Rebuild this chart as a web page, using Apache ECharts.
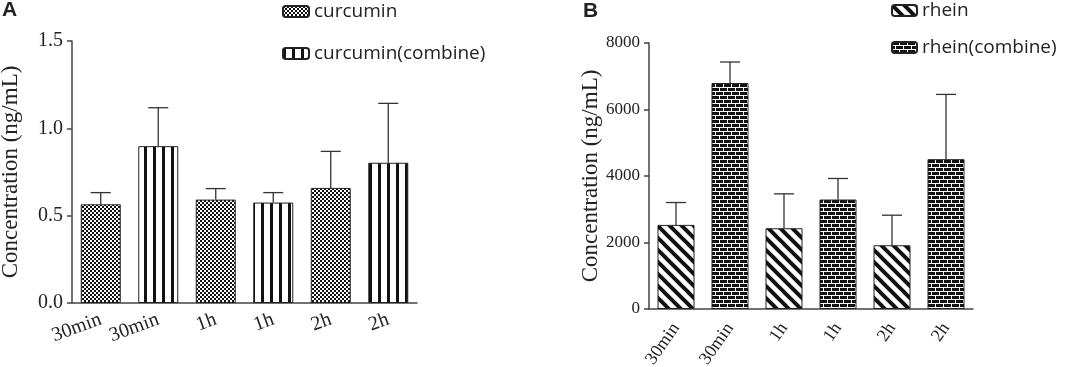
<!DOCTYPE html>
<html>
<head>
<meta charset="utf-8">
<script src="https://cdn.jsdelivr.net/npm/echarts@6/dist/echarts.min.js"></script>
<style>
  html, body { margin: 0; padding: 0; background: #fff; }
  #chart { width: 1072px; height: 367px; }
</style>
</head>
<body>
<div id="chart"></div>
<script>
const timeLabels = ['30min', '30min', '1h', '1h', '2h', '2h'];

// panel A (ng/mL)
const curcuminMean = [0.565, null, 0.592, null, 0.659, null];
const curcuminCombineMean = [null, 0.898, null, 0.575, null, 0.803];
const curcuminUpper = [0.632, 1.118, 0.655, 0.632, 0.868, 1.143];

// panel B (ng/mL)
const rheinMean = [2530, null, 2429, null, 1917, null];
const rheinCombineMean = [null, 6796, null, 3292, null, 4507];
const rheinUpper = [3202, 7428, 3463, 3925, 2821, 6454];

const serif = '"Liberation Serif", "DejaVu Serif", serif';
const sans = '"Open Sans", "Noto Sans", sans-serif';
const ink = '#222';

function makeTile(w, h, bg, draw) {
  const c = document.createElement('canvas');
  c.width = w;
  c.height = h;
  const ctx = c.getContext('2d');
  ctx.fillStyle = bg;
  ctx.fillRect(0, 0, w, h);
  ctx.fillStyle = '#111';
  ctx.strokeStyle = '#111';
  draw(ctx);
  return { image: c, repeat: 'repeat' };
}

const checkFill = makeTile(4, 4, '#fff', ctx => {
  ctx.fillRect(0, 0, 2, 2);
  ctx.fillRect(2, 2, 2, 2);
});
const stripeFill = makeTile(9, 4, '#fff', ctx => {
  ctx.fillRect(0, 0, 3, 4);
});
const diagFill = makeTile(12, 12, '#fff', ctx => {
  ctx.lineWidth = 4;
  [-12, 0, 12].forEach(o => {
    ctx.beginPath();
    ctx.moveTo(o - 2, -2);
    ctx.lineTo(o + 14, 14);
    ctx.stroke();
  });
});
// black bricks, white mortar
const brickFill = makeTile(16, 8, '#fff', ctx => {
  ctx.fillRect(0, 0, 7, 3);
  ctx.fillRect(8, 0, 7, 3);
  ctx.fillRect(4, 4, 7, 3);
  ctx.fillRect(12, 4, 4, 3);
  ctx.fillRect(0, 4, 3, 3);
});

function meanOf(a, b) {
  return a.map((v, i) => (v != null ? v : b[i]));
}

function errorData(a, b, upper) {
  const m = meanOf(a, b);
  return upper.map((u, i) => [i, m[i], u]);
}

function errorSeries(idx, a, b, upper) {
  return {
    type: 'custom',
    xAxisIndex: idx,
    yAxisIndex: idx,
    z: 1,
    silent: true,
    data: errorData(a, b, upper),
    renderItem: (params, api) => {
      const base = api.coord([api.value(0), api.value(1)]);
      const top = api.coord([api.value(0), api.value(2)]);
      const style = { stroke: '#333', lineWidth: 1.3 };
      return {
        type: 'group',
        children: [
          { type: 'line', shape: { x1: base[0], y1: base[1], x2: base[0], y2: top[1] }, style },
          { type: 'line', shape: { x1: base[0] - 10, y1: top[1], x2: base[0] + 10, y2: top[1] }, style }
        ]
      };
    }
  };
}

function barSeries(name, idx, data, fill, width) {
  return {
    name,
    type: 'bar',
    xAxisIndex: idx,
    yAxisIndex: idx,
    data,
    barWidth: width,
    barGap: '-100%',
    z: 2,
    itemStyle: { color: fill, borderColor: ink, borderWidth: 1 }
  };
}

const axisLine = { lineStyle: { color: '#444', width: 1.5 } };
const tickStyle = { color: '#444', width: 1.5 };

const chart = echarts.init(document.getElementById('chart'));

chart.setOption({
  animation: false,
  backgroundColor: '#fff',
  grid: [
    { left: 72, top: 41, width: 345, height: 262, outerBoundsMode: 'none' },
    { left: 649, top: 43, width: 324, height: 266, outerBoundsMode: 'none' }
  ],
  legend: [
    {
      data: ['curcumin', 'curcumin(combine)'],
      orient: 'vertical',
      left: 277,
      top: -3,
      itemWidth: 26,
      itemHeight: 11,
      itemGap: 23,
      textStyle: { fontFamily: sans, fontSize: 19, color: ink }
    },
    {
      data: ['rhein', 'rhein(combine)'],
      orient: 'vertical',
      left: 886,
      top: -4,
      itemWidth: 25,
      itemHeight: 11,
      itemGap: 18,
      textStyle: { fontFamily: sans, fontSize: 19, color: ink }
    }
  ],
  xAxis: [
    {
      type: 'category',
      gridIndex: 0,
      data: timeLabels,
      axisLine,
      axisTick: { alignWithLabel: true, length: 6, lineStyle: tickStyle },
      axisLabel: { rotate: 20, margin: 16, fontFamily: serif, fontSize: 20, color: ink, interval: 0 }
    },
    {
      type: 'category',
      gridIndex: 1,
      data: timeLabels,
      axisLine,
      axisTick: { alignWithLabel: true, length: 6, lineStyle: tickStyle },
      axisLabel: { rotate: 55, margin: 16, fontFamily: serif, fontSize: 18, color: ink, interval: 0 }
    }
  ],
  yAxis: [
    {
      type: 'value',
      gridIndex: 0,
      min: 0,
      max: 1.5,
      interval: 0.5,
      name: 'Concentration (ng/mL)',
      nameLocation: 'middle',
      nameGap: 50,
      nameTextStyle: { fontFamily: serif, fontSize: 23, color: ink },
      axisLine: { show: true, lineStyle: { color: '#444', width: 1.5 } },
      axisTick: { show: true, length: 5, lineStyle: tickStyle },
      axisLabel: { margin: 9, fontFamily: serif, fontSize: 20, color: ink, formatter: v => v.toFixed(1) },
      splitLine: { show: false }
    },
    {
      type: 'value',
      gridIndex: 1,
      min: 0,
      max: 8000,
      interval: 2000,
      name: 'Concentration (ng/mL)',
      nameLocation: 'middle',
      nameGap: 45,
      nameTextStyle: { fontFamily: serif, fontSize: 23, color: ink },
      axisLine: { show: true, lineStyle: { color: '#444', width: 1.5 } },
      axisTick: { show: true, length: 5, lineStyle: tickStyle },
      axisLabel: { margin: 9, fontFamily: serif, fontSize: 17, color: ink, formatter: v => String(v) },
      splitLine: { show: false }
    }
  ],
  graphic: [
    { type: 'text', left: 2, top: 0, style: { text: 'A', font: 'bold 21px "Liberation Sans", Arial, sans-serif', fill: ink } },
    { type: 'text', left: 583, top: 1, style: { text: 'B', font: 'bold 21px "Liberation Sans", Arial, sans-serif', fill: ink } }
  ],
  series: [
    barSeries('curcumin', 0, curcuminMean, checkFill, 40),
    barSeries('curcumin(combine)', 0, curcuminCombineMean, stripeFill, 40),
    errorSeries(0, curcuminMean, curcuminCombineMean, curcuminUpper),
    barSeries('rhein', 1, rheinMean, diagFill, 37),
    barSeries('rhein(combine)', 1, rheinCombineMean, brickFill, 37),
    errorSeries(1, rheinMean, rheinCombineMean, rheinUpper)
  ]
});
</script>
</body>
</html>
